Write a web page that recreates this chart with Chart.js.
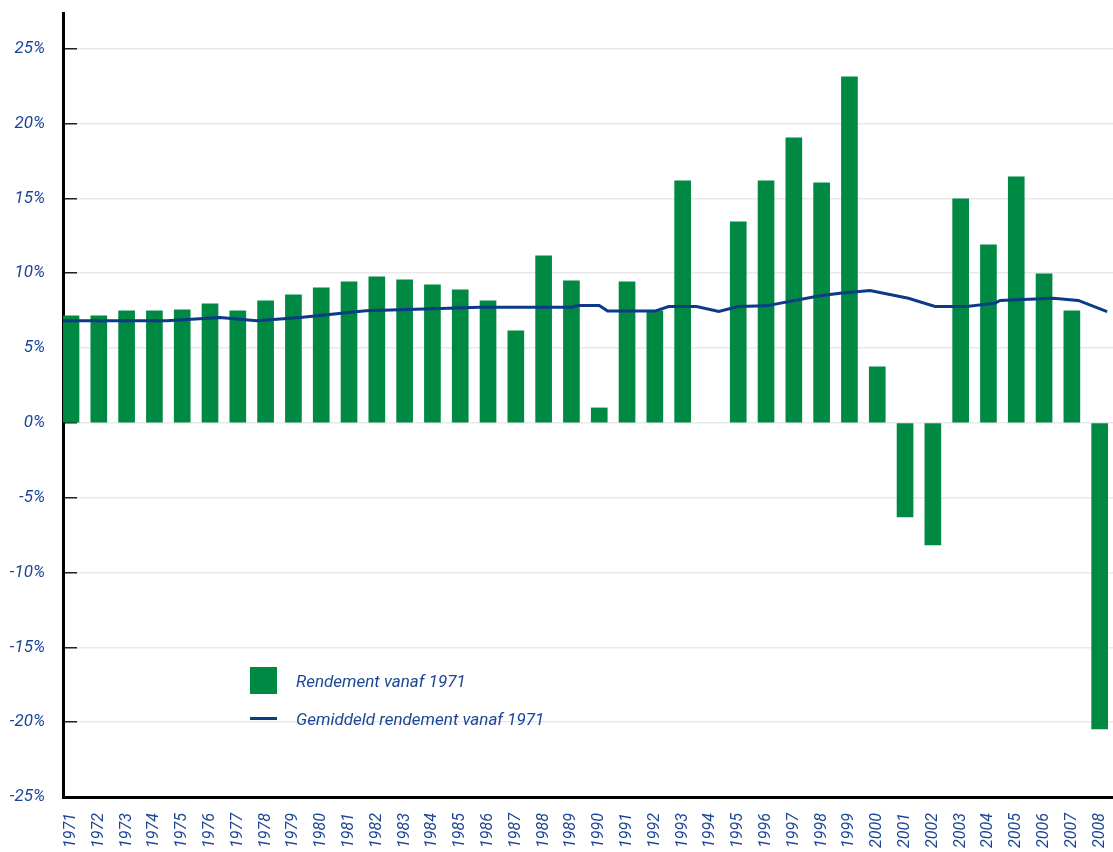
<!DOCTYPE html>
<html>
<head>
<meta charset="utf-8">
<script src="https://cdn.jsdelivr.net/npm/chart.js@4"></script>
<style>
  html, body { margin: 0; padding: 0; background: #fff; }
  #wrap { position: relative; width: 1113px; height: 852px; }
  .legend { position: absolute; left: 250px; top: 667px; font-family: Roboto, "Liberation Sans", sans-serif; font-style: italic; font-size: 17px; color: #1d4596; }
  .legend-row { display: flex; align-items: center; height: 27px; margin-bottom: 11px; }
  .swatch-bar { width: 27px; height: 27px; background: #008943; margin-right: 19px; }
  .swatch-line { width: 27px; height: 3px; background: #0b3a87; margin-right: 19px; }
</style>
</head>
<body>
<div id="wrap">
  <canvas id="chart"></canvas>
  <div class="legend">
    <div class="legend-row"><span class="swatch-bar"></span>Rendement vanaf 1971</div>
    <div class="legend-row"><span class="swatch-line"></span>Gemiddeld rendement vanaf 1971</div>
  </div>
</div>
<script>
const years = [];
for (let y = 1971; y <= 2008; y++) years.push(y);

// annual return (%), 1994 has no bar
const returns = [
  7.15, 7.15, 7.49, 7.49, 7.55, 7.95, 7.49, 8.16, 8.56, 9.02,
  9.43, 9.76, 9.56, 9.22, 8.89, 8.16, 6.15, 11.16, 9.49, 1.0,
  9.43, 7.49, 16.18, null, 13.44, 16.18, 19.05, 16.04, 23.13, 3.74,
  -6.28, -8.16, 14.97, 11.9, 16.44, 9.96, 7.49, -20.45
];

// running average line (positions in years, values in %)
const avgYears = [
  1970.71, 1974.45, 1976.36, 1977.68, 1979.24, 1981.6, 1984.3, 1985.7,
  1989.0, 1989.25, 1990.0, 1990.3, 1992.0, 1992.5, 1993.5, 1994.3,
  1995.0, 1996.0, 1997.94, 1998.66, 1999.74, 2001.12, 2002.08, 2003.22,
  2004.24, 2004.42, 2006.33, 2007.23, 2008.27
];
const avgValues = [
  6.82, 6.82, 7.04, 6.82, 7.04, 7.49, 7.64, 7.73,
  7.73, 7.84, 7.84, 7.47, 7.47, 7.78, 7.78, 7.44,
  7.77, 7.82, 8.49, 8.67, 8.84, 8.33, 7.78, 7.78,
  8.0, 8.18, 8.33, 8.18, 7.44
];

const yTicks = [-25, -20, -15, -10, -5, 0, 5, 10, 15, 20, 25];

const textColor = "#1d4596";
const font = { family: "Roboto, 'Liberation Sans', sans-serif", size: 16, style: "italic" };

new Chart(document.getElementById("chart"), {
  type: "bar",
  data: {
    datasets: [
      {
        type: "line",
        label: "Gemiddeld rendement vanaf 1971",
        data: avgYears.map((x, i) => ({ x, y: avgValues[i] })),
        borderColor: "#0b3a87",
        borderWidth: 3,
        pointRadius: 0,
        tension: 0,
        order: 0,
      },
      {
        type: "bar",
        label: "Rendement vanaf 1971",
        data: years.map((x, i) => ({ x, y: returns[i] })),
        backgroundColor: "#008943",
        barThickness: 16,
        order: 1,
      },
    ],
  },
  options: {
    responsive: true,
    maintainAspectRatio: false,
    animation: false,
    layout: { padding: { top: 13, right: 0, left: 0, bottom: 0 } },
    plugins: { legend: { display: false }, tooltip: { enabled: false } },
    scales: {
      x: {
        type: "linear",
        offset: false,
        min: 1970.712,
        max: 2008.48,
        border: { color: "#000", width: 3 },
        grid: { drawOnChartArea: false, drawTicks: true, tickLength: 16, tickColor: "rgba(0,0,0,0)" },
        afterBuildTicks: (scale) => { scale.ticks = years.map((v) => ({ value: v })); },
        afterFit: (scale) => { scale.height = 55; scale.paddingLeft = 0; scale.paddingRight = 0; },
        ticks: {
          autoSkip: false,
          maxRotation: 90,
          minRotation: 90,
          padding: 0,
          color: textColor,
          font,
          callback: (v) => String(v),
        },
      },
      y: {
        min: -25,
        max: 27.39,
        border: { color: "#000", width: 3 },
        grid: { color: "#e9e9e9", lineWidth: 1.5, tickColor: "#222", tickLength: -14 },
        afterBuildTicks: (scale) => { scale.ticks = yTicks.map((v) => ({ value: v })); },
        afterFit: (scale) => { scale.width = 63; scale.paddingTop = 0; scale.paddingBottom = 0; },
        ticks: {
          padding: 32,
          color: textColor,
          font: { ...font, size: 17 },
          callback: (v) => v + "%",
        },
      },
    },
  },
});
</script>
</body>
</html>
